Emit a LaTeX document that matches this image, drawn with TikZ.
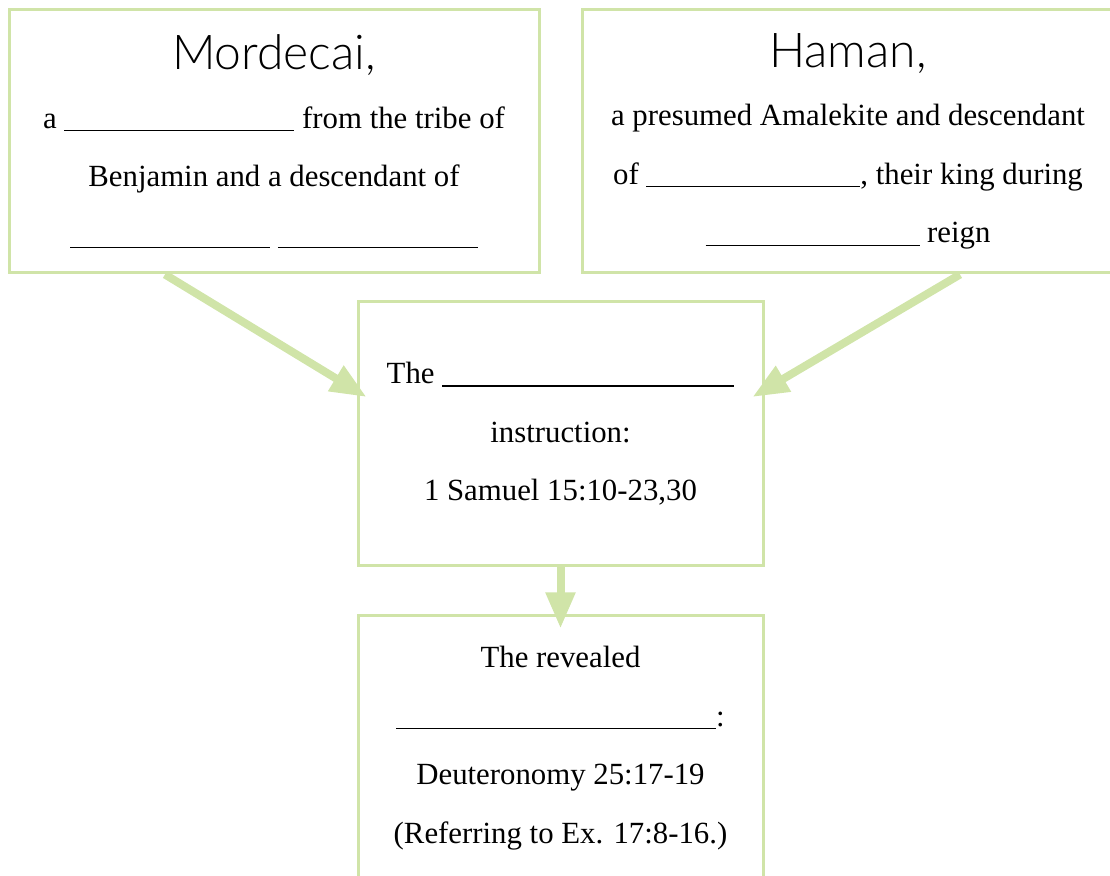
\documentclass[tikz,border=0pt]{standalone}
\usepackage{fontspec}
\setmainfont{Liberation Serif}
\newfontfamily\headfont{Lato Light}
\usetikzlibrary{arrows.meta}
\definecolor{leaf}{RGB}{208,228,168}
\newcommand{\blank}[1]{\rule[-1.5pt]{#1}{0.7pt}}
\newcommand{\who}[1]{{\headfont\fontsize{24}{29}\selectfont #1}}

\begin{document}
\begin{tikzpicture}[x=0.5pt,y=-0.5pt,
    box/.style={draw=leaf,line width=1.5pt,align=center,inner sep=0pt,
      font=\fontsize{15.4}{29.25}\selectfont},
    flow/.style={draw=leaf,line width=4pt,-{Triangle[length=18pt,width=14pt]}}]
  \useasboundingbox (0,0) rectangle (1110,876);
  \begin{scope}
    \clip (0,0) rectangle (1110,876);
    % the two people
    \node[box,minimum width=265pt,minimum height=131.5pt] (mordecai) at (274,141.5)
      {\who{Mordecai,}\\
       a \blank{115pt} from the tribe of\\
       Benjamin and a descendant of\\
       \blank{100pt} \blank{100pt}};
    \node[box,minimum width=266pt,minimum height=131.5pt] (haman) at (848,141.5)
      {\who{Haman,}\\
       a presumed Amalekite and descendant\\
       of \blank{107pt}, their king during\\
       \blank{107pt} reign};
    % the instruction and the command
    \node[box,minimum width=202.5pt,minimum height=132pt] (instr) at (560.5,434)
      {The \blank{146pt}\\
       instruction:\\
       1 Samuel 15:10-23,30};
    \node[box,minimum width=202.5pt,minimum height=132pt] (revealed) at (560.5,748)
      {The revealed\\
       \blank{160pt}:\\
       Deuteronomy 25:17-19\\
       (Referring to Ex. 17:8-16.)};
    \draw[flow] ([xshift=-54.5pt]mordecai.south) -- ([xshift=5pt,yshift=18.5pt]instr.west);
    \draw[flow] ([xshift=56pt]haman.south) -- ([xshift=-6pt,yshift=18.5pt]instr.east);
    \draw[flow] (instr.south) -- ([yshift=-7pt]revealed.north);
  \end{scope}
\end{tikzpicture}
\end{document}
